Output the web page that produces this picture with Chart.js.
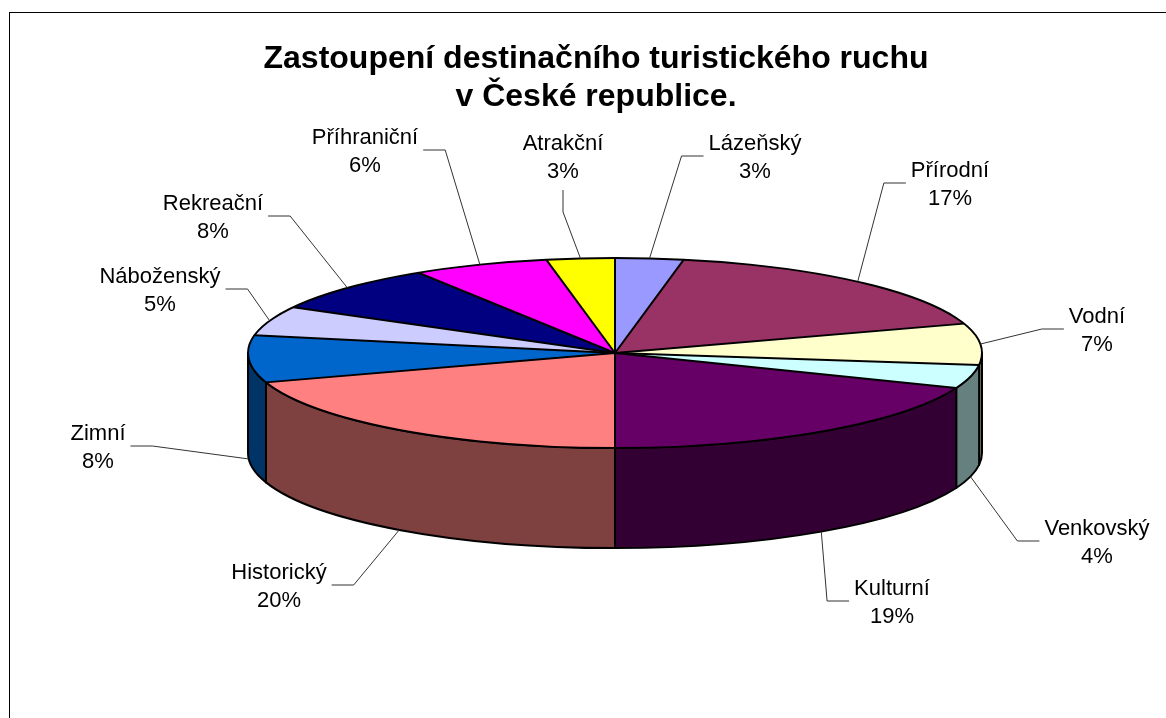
<!DOCTYPE html>
<html>
<head>
<meta charset="utf-8">
<title>Zastoupení destinačního turistického ruchu</title>
<script src="https://cdn.jsdelivr.net/npm/chart.js@4.4.0/dist/chart.umd.min.js"></script>
<style>
  html, body { margin: 0; padding: 0; background: #fff; }
  canvas { display: block; }
</style>
</head>
<body>
<canvas id="graf" width="1166" height="718"></canvas>
<script>
// data z grafu
const kategorie = ['Lázeňský', 'Přírodní', 'Vodní', 'Venkovský', 'Kulturní', 'Historický', 'Zimní', 'Náboženský', 'Rekreační', 'Příhraniční', 'Atrakční'];
const podily = [3, 17, 7, 4, 19, 20, 8, 5, 8, 6, 3];
const barvy = ['#9999FF', '#993366', '#FFFFCC', '#CCFFFF', '#660066', '#FF8080', '#0066CC', '#CCCCFF', '#000080', '#FF00FF', '#FFFF00'];
const titulek = ['Zastoupení destinačního turistického ruchu', 'v České republice.'];

// kde stoji popisky (stred bloku dvou radku)
const popiskyXY = [[755, 156], [950, 183], [1097, 329], [1097, 541], [892, 601], [279, 585], [98, 446], [160, 289], [213, 216], [365, 150], [563, 156]];

const SKLON = 0.259;   // zplosteni elipsy
const HLOUBKA = 100;   // vyska valce
const PISMO = '"Liberation Sans", Arial, sans-serif';

function ztmavit(hex) {
  const n = parseInt(hex.slice(1), 16);
  const r = (n >> 16) >> 1, g = ((n >> 8) & 255) >> 1, b = (n & 255) >> 1;
  return `rgb(${r},${g},${b})`;
}

const kolac3d = {
  id: 'kolac3d',
  beforeDraw(chart) {
    const ctx = chart.ctx;
    ctx.save();
    ctx.strokeStyle = '#000';
    ctx.lineWidth = 1;
    ctx.strokeRect(9.5, 12.5, 3000, 3000);
    ctx.restore();
  },
  beforeDatasetsDraw(chart) {
    const ctx = chart.ctx;
    const meta = chart.getDatasetMeta(0);
    // bocni stena (jen predni polovina)
    meta.data.forEach((arc, i) => {
      const s = Math.max(arc.startAngle, 0);
      const e = Math.min(arc.endAngle, Math.PI);
      if (e <= s) return;
      const r = arc.outerRadius;
      ctx.beginPath();
      ctx.ellipse(arc.x, arc.y, r, r * SKLON, 0, s, e);
      ctx.ellipse(arc.x, arc.y + HLOUBKA, r, r * SKLON, 0, e, s, true);
      ctx.closePath();
      ctx.fillStyle = ztmavit(barvy[i]);
      ctx.fill();
      ctx.lineWidth = 2;
      ctx.strokeStyle = '#000';
      ctx.lineJoin = 'round';
      ctx.stroke();
    });
    // horni plocha -> zplostit
    const a = meta.data[0];
    ctx.save();
    ctx.translate(a.x, a.y);
    ctx.scale(1, SKLON);
    ctx.translate(-a.x, -a.y);
  },
  afterDatasetsDraw(chart) {
    const ctx = chart.ctx;
    ctx.restore();
    const meta = chart.getDatasetMeta(0);
    const a = meta.data[0];
    const cx = a.x, cy = a.y, r = a.outerRadius;

    // obrysy horni plochy
    ctx.save();
    ctx.strokeStyle = '#000';
    ctx.lineWidth = 2;
    ctx.lineJoin = 'round';
    meta.data.forEach((arc) => {
      ctx.beginPath();
      ctx.moveTo(cx, cy);
      ctx.lineTo(cx + r * Math.cos(arc.startAngle), cy + r * SKLON * Math.sin(arc.startAngle));
      ctx.stroke();
    });
    ctx.beginPath();
    ctx.ellipse(cx, cy, r, r * SKLON, 0, 0, Math.PI * 2);
    ctx.stroke();
    ctx.restore();

    // popisky s odkazovymi carami
    const soucet = podily.reduce((acc, v) => acc + v, 0);
    ctx.save();
    ctx.font = '22px ' + PISMO;
    ctx.fillStyle = '#000';
    ctx.textAlign = 'center';
    ctx.textBaseline = 'alphabetic';
    meta.data.forEach((arc, i) => {
      const [lx, ly] = popiskyXY[i];
      const proc = Math.round(podily[i] / soucet * 100) + '%';
      ctx.fillText(kategorie[i], lx, ly - 6);
      ctx.fillText(proc, lx, ly + 22);

      const mid = (arc.startAngle + arc.endAngle) / 2;
      const ax = cx + r * Math.cos(mid);
      const ay = cy + r * SKLON * Math.sin(mid) + (Math.sin(mid) > 0 ? HLOUBKA : 0);
      const pol = Math.max(ctx.measureText(kategorie[i]).width, ctx.measureText(proc).width) / 2;
      let p1, p2;
      if (ax > lx + pol) {
        p1 = [lx + pol + 5, ly]; p2 = [lx + pol + 27, ly];
      } else if (ax < lx - pol) {
        p1 = [lx - pol - 5, ly]; p2 = [lx - pol - 27, ly];
      } else {
        p1 = [lx, ly + 34]; p2 = [lx, ly + 56];
      }
      ctx.beginPath();
      ctx.moveTo(p1[0], p1[1]);
      ctx.lineTo(p2[0], p2[1]);
      ctx.lineTo(ax, ay);
      ctx.strokeStyle = '#333';
      ctx.lineWidth = 1;
      ctx.stroke();
    });

    // titulek
    ctx.font = 'bold 32px ' + PISMO;
    ctx.fillText(titulek[0], 596, 68);
    ctx.fillText(titulek[1], 596, 106);
    ctx.restore();
  }
};

const graf = new Chart(document.getElementById('graf').getContext('2d'), {
  type: 'pie',
  data: {
    labels: kategorie,
    datasets: [{
      data: podily,
      backgroundColor: barvy,
      borderWidth: 0,
      radius: 367,
      clip: false
    }]
  },
  options: {
    responsive: false,
    animation: false,
    events: [],
    layout: { padding: { left: 64, right: 0, top: 0, bottom: 12 } },
    plugins: {
      legend: { display: false },
      tooltip: { enabled: false },
      title: { display: false }
    }
  },
  plugins: [kolac3d]
});
</script>
</body>
</html>
